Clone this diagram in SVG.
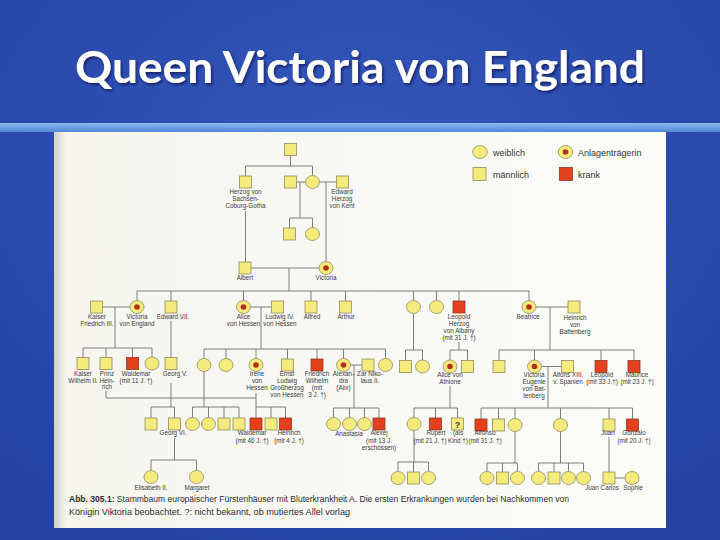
<svg xmlns="http://www.w3.org/2000/svg" width="720" height="540" viewBox="0 0 720 540">
<defs>
<radialGradient id="bg" cx="0.5" cy="0.3" r="0.8"><stop offset="0" stop-color="#3457bb"/><stop offset="1" stop-color="#2342a2"/></radialGradient>
<linearGradient id="band" x1="0" y1="0" x2="0" y2="1"><stop offset="0" stop-color="#8dbcef"/><stop offset="1" stop-color="#4f86d6"/></linearGradient>
<linearGradient id="page" x1="0" y1="0" x2="1" y2="0"><stop offset="0" stop-color="#d2d0c9"/><stop offset="0.02" stop-color="#f6f5f0"/><stop offset="1" stop-color="#fbfbf8"/></linearGradient>
<filter id="sh" x="-5%" y="-20%" width="110%" height="150%"><feDropShadow dx="1.5" dy="2" stdDeviation="1.2" flood-color="#0a1850" flood-opacity="0.7"/></filter>
</defs>
<style>
.m{fill:#f5ea7c;stroke:#938d5c;stroke-width:.8}
.s{fill:#e4401d;stroke:#8f3a26;stroke-width:.8}
.d{fill:#b2311a}
.l{fill:none;stroke:#6f6f6f;stroke-width:.9}
.t{font-family:"Liberation Sans",Arial,sans-serif;font-size:6.3px;fill:#3a3a3a;text-anchor:middle}
.lg{font-family:"Liberation Sans",Arial,sans-serif;font-size:9px;fill:#333}
.cap{font-family:"Liberation Sans",Arial,sans-serif;font-size:9.2px;fill:#2e2e2e}
</style>
<rect width="720" height="540" fill="url(#bg)"/>
<rect y="123" width="720" height="9" fill="url(#band)"/>
<rect x="54" y="132" width="612" height="396" fill="url(#page)"/>
<text x="360" y="83" font-family="Lato, 'Open Sans', sans-serif" font-weight="700" font-size="44" fill="#fff" text-anchor="middle" textLength="570" lengthAdjust="spacingAndGlyphs" filter="url(#sh)">Queen Victoria von England</text>

<g id="legend">
<ellipse class="m" cx="480" cy="152" rx="7.3" ry="6.5"/><text class="lg" x="493" y="155.5">weiblich</text>
<rect class="m" x="473" y="167.5" width="13" height="13"/><text class="lg" x="493" y="177.5">männlich</text>
<ellipse class="m" cx="565.5" cy="152" rx="7.3" ry="6.5"/><circle class="d" cx="565.5" cy="152" r="2.8"/><text class="lg" x="578" y="155.5">Anlagenträgerin</text>
<rect class="s" x="559.5" y="167.5" width="13" height="13"/><text class="lg" x="578" y="177.5">krank</text>
</g>

<g id="connectors" class="l">
<path d="M290.5 155.5V166M245.5 166H312.5M245.5 166V176M312.5 166V175.5"/>
<path d="M296.5 182H305.5M300 182V218M289.5 218H312.5M289.5 218V228M312.5 218V227.5"/>
<path d="M319.5 182H336.5M326 182V261.5"/>
<path d="M245.5 211V262"/>
<path d="M251 268H319M289 268V291"/>
<path d="M137 291H529M137 291V300.5M171 291V301M243.5 291V300.5M311 291V301M345.5 291V301M413.5 291V300.5M436.5 291V300.5M459 291V301M529 291V300.5"/>
<path d="M102.5 307H130M115 307V348M83 348H152M83 348V357.5M106 348V357.5M132.5 348V357.5M152 348V357"/>
<path d="M171 321V357.5"/>
<path d="M250.5 307H271.5M261 307V349M204 349H385.5M204 349V358.5M226 349V358.5M256 349V358.5M287.5 349V359M317 349V359M343.5 349V358.5M385.5 349V358.5"/>
<path d="M350.5 365H362M354 365V408M333.5 408H379M333.5 408V417.5M349.5 408V417.5M364.5 408V417.5M379 408V418"/>
<path d="M413.5 313.5V350M405.5 350H422.5M405.5 350V360.5M422.5 350V360"/>
<path d="M459 342V350M450 350H467.5M450 350V360M467.5 350V360.5"/>
<path d="M536 307H568M550 307V350M499 350H634M499 350V360.5M534.5 350V360M601 350V360.5M634 350V360.5"/>
<path d="M541.5 366.5H561.5M548 366.5V408M481 408H632.5M481 408V419M498.5 408V419M515 408V418.5M560.5 408V418.5M609 408V419M632.5 408V419"/>
<path d="M171 383V407M151 407H174.5M151 407V418M174.5 407V418"/>
<path d="M204 371.5V407M192.5 407H239M192.5 407V417.5M208.5 407V417.5M224 407V418M239 407V418"/>
<path d="M106 391V398H256M256 393V407M256 407H285.5M256 407V418M271 407V418M285.5 407V418"/>
<path d="M450 386V408M414 408H457.5M414 408V417.5M435.5 408V418M457.5 408V418"/>
<path d="M414 430.5V462M398 462H428.5M398 462V471.5M413.5 462V472M428.5 462V471.5"/>
<path d="M174.5 438V460M151 460H196.5M151 460V470.5M196.5 460V470.5"/>
<path d="M515 431.5V463M487 463H517.5M487 463V471.5M502.5 463V472M517.5 463V471.5"/>
<path d="M560.5 431.5V463M538.5 463H583.5M538.5 463V471.5M554 463V472M568.5 463V471.5M583.5 463V471.5"/>
<path d="M609 437V472M615 478H625"/>
</g>

<g id="g0"><rect class="m" x="284.5" y="143.5" width="12" height="12"/></g>
<g id="herzog-sachsen"><rect class="m" x="239.5" y="176" width="12" height="12"/><text class="t" x="245.5" y="194"><tspan x="245.5">Herzog von</tspan><tspan x="245.5" dy="7">Sachsen-</tspan><tspan x="245.5" dy="7">Coburg-Gotha</tspan></text></g>
<g id="g1b"><rect class="m" x="284.5" y="176" width="12" height="12"/></g>
<g id="g1c"><ellipse class="m" cx="312.5" cy="182" rx="7" ry="6.5"/></g>
<g id="edward-kent"><rect class="m" x="336.5" y="176" width="12" height="12"/><text class="t" x="342" y="194"><tspan x="342">Edward</tspan><tspan x="342" dy="7">Herzog</tspan><tspan x="342" dy="7">von Kent</tspan></text></g>
<g id="g15a"><rect class="m" x="283.5" y="228" width="12" height="12"/></g>
<g id="g15b"><ellipse class="m" cx="312.5" cy="234" rx="7" ry="6.5"/></g>
<g id="albert"><rect class="m" x="239" y="262" width="12" height="12"/><text class="t" x="245" y="280">Albert</text></g>
<g id="victoria"><ellipse class="m" cx="326" cy="268" rx="7" ry="6.5"/><circle class="d" cx="326" cy="268" r="2.8"/><text class="t" x="326" y="280">Victoria</text></g>

<g id="kaiser-friedrich"><rect class="m" x="90.5" y="301" width="12" height="12"/><text class="t" x="97" y="318.5"><tspan x="97">Kaiser</tspan><tspan x="97" dy="7">Friedrich III.</tspan></text></g>
<g id="victoria-england"><ellipse class="m" cx="137" cy="307" rx="7" ry="6.5"/><circle class="d" cx="137" cy="307" r="2.8"/><text class="t" x="137" y="318.5"><tspan x="137">Victoria</tspan><tspan x="137" dy="7">von England</tspan></text></g>
<g id="edward7"><rect class="m" x="165" y="301" width="12" height="12"/><text class="t" x="173" y="318.5">Edward VII.</text></g>
<g id="alice-hessen"><ellipse class="m" cx="243.5" cy="307" rx="7" ry="6.5"/><circle class="d" cx="243.5" cy="307" r="2.8"/><text class="t" x="243.5" y="318.5"><tspan x="243.5">Alice</tspan><tspan x="243.5" dy="7">von Hessen</tspan></text></g>
<g id="ludwig4"><rect class="m" x="271.5" y="301" width="12" height="12"/><text class="t" x="280" y="318.5"><tspan x="280">Ludwig IV.</tspan><tspan x="280" dy="7">von Hessen</tspan></text></g>
<g id="alfred"><rect class="m" x="305" y="301" width="12" height="12"/><text class="t" x="312" y="318.5">Alfred</text></g>
<g id="arthur"><rect class="m" x="339.5" y="301" width="12" height="12"/><text class="t" x="346" y="318.5">Arthur</text></g>
<g id="g2c1"><ellipse class="m" cx="413.5" cy="307" rx="7" ry="6.5"/></g>
<g id="g2c2"><ellipse class="m" cx="436.5" cy="307" rx="7" ry="6.5"/></g>
<g id="leopold-albany"><rect class="s" x="453" y="301" width="12" height="12"/><text class="t" x="459" y="318.5"><tspan x="459">Leopold</tspan><tspan x="459" dy="7">Herzog</tspan><tspan x="459" dy="7">von Albany</tspan><tspan x="459" dy="7">(mit 31 J. †)</tspan></text></g>
<g id="beatrice"><ellipse class="m" cx="529" cy="307" rx="7" ry="6.5"/><circle class="d" cx="529" cy="307" r="2.8"/><text class="t" x="528" y="319">Beatrice</text></g>
<g id="heinrich-battenberg"><rect class="m" x="568" y="301" width="12" height="12"/><text class="t" x="575" y="320"><tspan x="575">Heinrich</tspan><tspan x="575" dy="7">von</tspan><tspan x="575" dy="7">Battenberg</tspan></text></g>

<g id="wilhelm2"><rect class="m" x="77" y="357.5" width="12" height="12"/><text class="t" x="83" y="376"><tspan x="83">Kaiser</tspan><tspan x="83" dy="6.5">Wilhelm II.</tspan></text></g>
<g id="prinz-heinrich"><rect class="m" x="100" y="357.5" width="12" height="12"/><text class="t" x="107" y="376"><tspan x="107">Prinz</tspan><tspan x="107" dy="6.5">Hein-</tspan><tspan x="107" dy="6.5">rich</tspan></text></g>
<g id="waldemar-p"><rect class="s" x="126.5" y="357.5" width="12" height="12"/><text class="t" x="136" y="376"><tspan x="136">Waldemar</tspan><tspan x="136" dy="6.5">(mit 11 J. †)</tspan></text></g>
<g id="g3k4"><ellipse class="m" cx="152" cy="363.5" rx="7" ry="6.5"/></g>
<g id="georg5"><rect class="m" x="165" y="357.5" width="12" height="12"/><text class="t" x="175" y="376">Georg V.</text></g>

<g id="h1"><ellipse class="m" cx="204" cy="365" rx="7" ry="6.5"/></g>
<g id="h2"><ellipse class="m" cx="226" cy="365" rx="7" ry="6.5"/></g>
<g id="irene"><ellipse class="m" cx="256" cy="365" rx="7" ry="6.5"/><circle class="d" cx="256" cy="365" r="2.8"/><text class="t" x="257" y="376"><tspan x="257">Irene</tspan><tspan x="257" dy="7">von</tspan><tspan x="257" dy="7">Hessen</tspan></text></g>
<g id="ernst-ludwig"><rect class="m" x="281.5" y="359" width="12" height="12"/><text class="t" x="287" y="376"><tspan x="287">Ernst</tspan><tspan x="287" dy="7">Ludwig</tspan><tspan x="287" dy="7">Großherzog</tspan><tspan x="287" dy="7">von Hessen</tspan></text></g>
<g id="friedrich-wilhelm"><rect class="s" x="311" y="359" width="12" height="12"/><text class="t" x="317" y="376"><tspan x="317">Friedrich</tspan><tspan x="317" dy="7">Wilhelm</tspan><tspan x="317" dy="7">(mit</tspan><tspan x="317" dy="7">3 J. †)</tspan></text></g>
<g id="alexandra"><ellipse class="m" cx="343.5" cy="365" rx="7" ry="6.5"/><circle class="d" cx="343.5" cy="365" r="2.8"/><text class="t" x="343.5" y="376"><tspan x="343.5">Alexan-</tspan><tspan x="343.5" dy="7">dra</tspan><tspan x="343.5" dy="7">(Alix)</tspan></text></g>
<g id="nikolaus2"><rect class="m" x="362" y="359" width="12" height="12"/><text class="t" x="370" y="376"><tspan x="370">Zar Niko-</tspan><tspan x="370" dy="7">laus II.</tspan></text></g>
<g id="h8"><ellipse class="m" cx="385.5" cy="365" rx="7" ry="6.5"/></g>

<g id="c1a"><rect class="m" x="399.5" y="360.5" width="12" height="12"/></g>
<g id="c1b"><ellipse class="m" cx="422.5" cy="366.5" rx="7" ry="6.5"/></g>
<g id="alice-athlone"><ellipse class="m" cx="450" cy="366.5" rx="7" ry="6.5"/><circle class="d" cx="450" cy="366.5" r="2.8"/><text class="t" x="450" y="377"><tspan x="450">Alice von</tspan><tspan x="450" dy="7">Athlone</tspan></text></g>
<g id="a2"><rect class="m" x="461.5" y="360.5" width="12" height="12"/></g>
<g id="b1"><rect class="m" x="493" y="360.5" width="12" height="12"/></g>
<g id="victoria-eugenie"><ellipse class="m" cx="534.5" cy="366.5" rx="7" ry="6.5"/><circle class="d" cx="534.5" cy="366.5" r="2.8"/><text class="t" x="534" y="377"><tspan x="534">Victoria</tspan><tspan x="534" dy="7">Eugénie</tspan><tspan x="534" dy="7">von Bat-</tspan><tspan x="534" dy="7">tenberg</tspan></text></g>
<g id="alfons13"><rect class="m" x="561.5" y="360.5" width="12" height="12"/><text class="t" x="568" y="377"><tspan x="568">Alfons XIII.</tspan><tspan x="568" dy="7">v. Spanien</tspan></text></g>
<g id="leopold-b"><rect class="s" x="595" y="360.5" width="12" height="12"/><text class="t" x="602" y="377"><tspan x="602">Leopold</tspan><tspan x="602" dy="7">(mit 33 J.†)</tspan></text></g>
<g id="maurice"><rect class="s" x="628" y="360.5" width="12" height="12"/><text class="t" x="637" y="377"><tspan x="637">Maurice</tspan><tspan x="637" dy="7">(mit 23 J. †)</tspan></text></g>

<g id="g4a"><rect class="m" x="145" y="418" width="12" height="12"/></g>
<g id="georg6"><rect class="m" x="168.5" y="418" width="12" height="12"/><text class="t" x="173" y="435">Georg VI.</text></g>
<g id="v1"><ellipse class="m" cx="192.5" cy="424" rx="7" ry="6.5"/></g>
<g id="v2"><ellipse class="m" cx="208.5" cy="424" rx="7" ry="6.5"/></g>
<g id="v3"><rect class="m" x="218" y="418" width="12" height="12"/></g>
<g id="v4"><rect class="m" x="233" y="418" width="12" height="12"/></g>
<g id="waldemar-h"><rect class="s" x="250" y="418" width="12" height="12"/><text class="t" x="252" y="435"><tspan x="252">Waldemar</tspan><tspan x="252" dy="7.5">(mit 46 J. †)</tspan></text></g>
<g id="i2"><rect class="m" x="265" y="418" width="12" height="12"/></g>
<g id="heinrich-h"><rect class="s" x="279.5" y="418" width="12" height="12"/><text class="t" x="289" y="435"><tspan x="289">Heinrich</tspan><tspan x="289" dy="7.5">(mit 4 J. †)</tspan></text></g>
<g id="an1"><ellipse class="m" cx="333.5" cy="424" rx="7" ry="6.5"/></g>
<g id="anastasia"><ellipse class="m" cx="349.5" cy="424" rx="7" ry="6.5"/><text class="t" x="349" y="436">Anastasia</text></g>
<g id="an3"><ellipse class="m" cx="364.5" cy="424" rx="7" ry="6.5"/></g>
<g id="alexej"><rect class="s" x="373" y="418" width="12" height="12"/><text class="t" x="379" y="435"><tspan x="379">Alexej</tspan><tspan x="379" dy="7.5">(mit 13 J.</tspan><tspan x="379" dy="7">erschossen)</tspan></text></g>
<g id="at1"><ellipse class="m" cx="414" cy="424" rx="7" ry="6.5"/></g>
<g id="rupert"><rect class="s" x="429.5" y="418" width="12" height="12"/><text class="t" x="436" y="435">Rupert</text><text class="t" x="430" y="442.5">(mit 21 J. †)</text></g>
<g id="unknown"><rect class="m" x="451.5" y="418" width="12" height="12"/><text class="t" x="457.5" y="427.5" style="font-size:9px;font-weight:bold">?</text><text class="t" x="458" y="435"><tspan x="458">(als</tspan><tspan x="458" dy="7.5">Kind †)</tspan></text></g>
<g id="alfonso"><rect class="s" x="475" y="419" width="12" height="12"/><text class="t" x="485" y="435"><tspan x="485">Alfonso</tspan><tspan x="485" dy="7.5">(mit 31 J. †)</tspan></text></g>
<g id="ve2"><rect class="m" x="492.5" y="419" width="12" height="12"/></g>
<g id="ve3"><ellipse class="m" cx="515" cy="425" rx="7" ry="6.5"/></g>
<g id="ve4"><ellipse class="m" cx="560.5" cy="425" rx="7" ry="6.5"/></g>
<g id="juan"><rect class="m" x="603" y="419" width="12" height="12"/><text class="t" x="608" y="435">Juan</text></g>
<g id="gonzalo"><rect class="s" x="626.5" y="419" width="12" height="12"/><text class="t" x="634" y="435"><tspan x="634">Gonzalo</tspan><tspan x="634" dy="7.5">(mit 20 J. †)</tspan></text></g>

<g id="elisabeth2"><ellipse class="m" cx="151" cy="477" rx="7" ry="6.5"/><text class="t" x="151" y="490">Elisabeth II.</text></g>
<g id="margaret"><ellipse class="m" cx="196.5" cy="477" rx="7" ry="6.5"/><text class="t" x="197" y="490">Margaret</text></g>
<g id="at-c1"><ellipse class="m" cx="398" cy="478" rx="7" ry="6.5"/></g>
<g id="at-c2"><rect class="m" x="407.5" y="472" width="12" height="12"/></g>
<g id="at-c3"><ellipse class="m" cx="428.5" cy="478" rx="7" ry="6.5"/></g>
<g id="ve3-c1"><ellipse class="m" cx="487" cy="478" rx="7" ry="6.5"/></g>
<g id="ve3-c2"><rect class="m" x="496.5" y="472" width="12" height="12"/></g>
<g id="ve3-c3"><ellipse class="m" cx="517.5" cy="478" rx="7" ry="6.5"/></g>
<g id="ve4-c1"><ellipse class="m" cx="538.5" cy="478" rx="7" ry="6.5"/></g>
<g id="ve4-c2"><rect class="m" x="548" y="472" width="12" height="12"/></g>
<g id="ve4-c3"><ellipse class="m" cx="568.5" cy="478" rx="7" ry="6.5"/></g>
<g id="ve4-c4"><ellipse class="m" cx="583.5" cy="478" rx="7" ry="6.5"/></g>
<g id="juan-carlos"><rect class="m" x="603" y="472" width="12" height="12"/><text class="t" x="602" y="490">Juan Carlos</text></g>
<g id="sophie"><ellipse class="m" cx="632" cy="478" rx="7" ry="6.5"/><text class="t" x="633" y="490">Sophie</text></g>

<g id="caption">
<text class="cap" x="69" y="502" textLength="500" lengthAdjust="spacingAndGlyphs"><tspan font-weight="bold">Abb. 305.1:</tspan> Stammbaum europäischer Fürstenhäuser mit Bluterkrankheit A. Die ersten Erkrankungen wurden bei Nachkommen von</text>
<text class="cap" x="69" y="515" textLength="281" lengthAdjust="spacingAndGlyphs">Königin Viktoria beobachtet. ?: nicht bekannt, ob mutiertes Allel vorlag</text>
</g>
</svg>
